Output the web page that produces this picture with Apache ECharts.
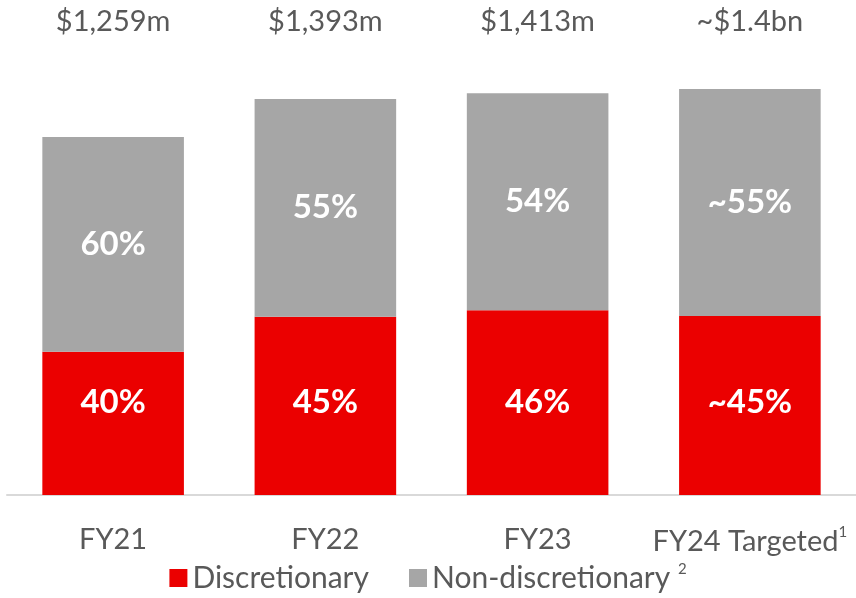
<!DOCTYPE html>
<html>
<head>
<meta charset="utf-8">
<script src="https://cdn.jsdelivr.net/npm/echarts@6/dist/echarts.min.js"></script>
<style>
  html, body { margin: 0; padding: 0; background: #fff; }
  #chart { width: 856px; height: 598px; }
</style>
</head>
<body>
<div id="chart"></div>
<script>
// categories and values ($m)
const years = ['FY21', 'FY22', 'FY23', 'FY24 Targeted']
const totals = ['$1,259m', '$1,393m', '$1,413m', '~$1.4bn']
const discretionary = [504, 627, 650, 630]
const nonDiscretionary = [755, 766, 763, 798]
const discPct = ['40%', '45%', '46%', '~45%']
const nonPct = ['60%', '55%', '54%', '~55%']

const font = 'Lato'
const textGrey = '#595959'

var myChart = echarts.init(document.getElementById('chart'), null, { renderer: 'canvas' })

function pctLabel(list, pos, dist) {
  return {
    show: true,
    position: pos,
    distance: dist,
    color: '#fff',
    fontFamily: font,
    fontWeight: 'bold',
    fontSize: 33,
    formatter: function (p) { return list[p.dataIndex] }
  }
}

var option = {
  animation: false,
  textStyle: { fontFamily: font },
  grid: { left: 7, right: -5, top: 60, bottom: 103, containLabel: false },
  legend: {
    bottom: 0,
    left: 'center',
    icon: 'rect',
    itemWidth: 18,
    itemHeight: 18,
    itemGap: 40,
    textStyle: {
      color: textGrey,
      fontFamily: font,
      fontSize: 30,
      rich: {
        sup: { fontSize: 15, verticalAlign: 'top', color: textGrey, fontFamily: font, padding: [0, 0, 18, 0] }
      }
    },
    formatter: function (name) {
      return name === 'Non-discretionary' ? name + ' {sup|2}' : name
    },
    data: ['Discretionary', 'Non-discretionary']
  },
  xAxis: [
    {
      type: 'category',
      data: years,
      axisLine: { lineStyle: { color: '#d9d9d9', width: 2 } },
      axisTick: { show: false },
      axisLabel: {
        interval: 0,
        color: textGrey,
        fontFamily: font,
        fontSize: 29,
        margin: 30,
        rich: {
          sup: { fontSize: 15, verticalAlign: 'top', color: textGrey, fontFamily: font, padding: [0, 0, 18, 0] }
        },
        formatter: function (v) {
          return v === 'FY24 Targeted' ? v + '{sup|1}' : v
        }
      }
    },
    {
      type: 'category',
      position: 'top',
      data: totals,
      axisLine: { show: false },
      axisTick: { show: false },
      axisLabel: { interval: 0, color: textGrey, fontFamily: font, fontSize: 29, margin: 24 }
    }
  ],
  yAxis: {
    type: 'value',
    min: 0,
    max: 1530,
    show: false,
    splitLine: { show: false }
  },
  series: [
    {
      name: 'Discretionary',
      type: 'bar',
      stack: 'total',
      barCategoryGap: '33.3%',
      itemStyle: { color: '#eb0000' },
      label: pctLabel(discPct, 'insideBottom', 76),
      data: discretionary
    },
    {
      name: 'Non-discretionary',
      type: 'bar',
      stack: 'total',
      itemStyle: { color: '#a6a6a6' },
      label: pctLabel(nonPct, 'inside', 5),
      data: nonDiscretionary
    }
  ]
}

myChart.setOption(option)
window.addEventListener('resize', myChart.resize)
</script>
</body>
</html>
